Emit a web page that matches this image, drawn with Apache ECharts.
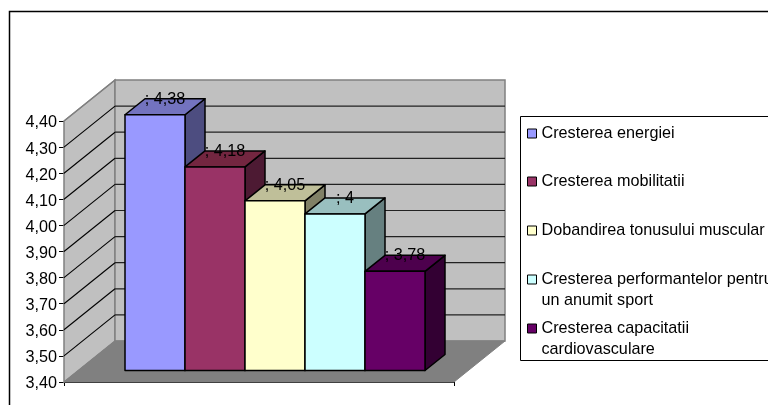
<!DOCTYPE html>
<html>
<head>
<meta charset="utf-8">
<style>html,body{margin:0;padding:0;background:#fff;overflow:hidden}#c{width:768px;height:405px}</style>
<script src="https://cdn.jsdelivr.net/npm/echarts@6/dist/echarts.min.js"></script>
</head>
<body>
<div id="c"></div>
<script>
const seriesNames = ["Cresterea energiei","Cresterea mobilitatii","Dobandirea tonusului muscular","Cresterea performantelor pentru\nun anumit sport","Cresterea capacitatii\ncardiovasculare"];
const seriesValues = [4.38,4.18,4.05,4,3.78];
const seriesColors = ["#9999FF","#993366","#FFFFCC","#CCFFFF","#660066"];
const topColors = ["#7373BF","#732640","#BFBF99","#99BFBF","#4D004D"];
const sideColors = ["#4D4D80","#4D1A33","#808066","#668080","#330033"];
const yTicks = [3.4,3.5,3.6,3.7,3.8,3.9,4.0,4.1,4.2,4.3,4.4];
const axisMin = 3.4, axisMax = 4.4;
const legendTops = [123,171,220,269,318];

const FONT = '"Liberation Sans", Arial, sans-serif';
const FS = 16.2;
const DEPTH = [51,-41], BAR_DEPTH = [20,-16], BAR_OFFSET = [16,-11.5];
const comma = v => String(v).replace('.',',');

function wallItem(params, api){
  const a = api.coord([0,axisMin]), b = api.coord([0,axisMax]);
  const w = api.size([1,0])[0];
  const x0 = a[0]-w/2, x1 = a[0]+w/2, yb = a[1], yt = b[1];
  const [dx,dy] = DEPTH;
  const wall = {fill:'#C0C0C0',stroke:'#808080',lineWidth:1.5};
  return {type:'group',children:[
    {type:'polygon',shape:{points:[[x0,yb],[x0,yt],[x0+dx,yt+dy],[x0+dx,yb+dy]]},style:wall,z2:1},
    {type:'polygon',shape:{points:[[x0+dx,yt+dy],[x1+dx,yt+dy],[x1+dx,yb+dy],[x0+dx,yb+dy]]},style:wall,z2:1},
    {type:'polygon',shape:{points:[[x0,yb],[x1,yb],[x1+dx,yb+dy],[x0+dx,yb+dy]]},style:{fill:'#808080',stroke:'#808080',lineWidth:1},z2:1}
  ]};
}
function gridItem(params, api){
  const v = api.value(0);
  if (v===axisMin) return {type:'group',children:[]};
  const p = api.coord([0,v]);
  const w = api.size([1,0])[0];
  const x0 = p[0]-w/2, x1 = p[0]+w/2, y = p[1];
  const [dx,dy] = DEPTH;
  const kids = [{type:'line',shape:{x1:x0,y1:y,x2:x0+dx,y2:y+dy},style:{stroke: v===axisMax?'#808080':'#000',lineWidth:1.1},z2:2}];
  if (v!==axisMax) kids.push({type:'line',shape:{x1:x0+dx,y1:y+dy,x2:x1+dx,y2:y+dy},style:{stroke:'#222',lineWidth:1.2},z2:2});
  return {type:'group',children:kids};
}
function barRender(i){
  return function(params, api){
    const v = api.value(1);
    const top = api.coord([0,v]), base = api.coord([0,axisMin]);
    const band = api.size([1,0])[0];
    const bw = band/6.5;
    const xl = top[0] + (i-2.5)*bw + BAR_OFFSET[0];
    const xr = xl+bw;
    const yt = top[1]+BAR_OFFSET[1], yb = base[1]+BAR_OFFSET[1];
    const [dx,dy] = BAR_DEPTH;
    const edge = {stroke:'#000',lineWidth:1.5,lineJoin:'round'};
    const z = 10+i;
    return {type:'group',children:[
      {type:'polygon',shape:{points:[[xr,yt],[xr+dx,yt+dy],[xr+dx,yb+dy],[xr,yb]]},style:{...edge,fill:sideColors[i]},z2:z},
      {type:'polygon',shape:{points:[[xl,yt],[xl+dx,yt+dy],[xr+dx,yt+dy],[xr,yt]]},style:{...edge,fill:topColors[i]},z2:z},
      {type:'rect',shape:{x:xl,y:yt,width:bw,height:yb-yt},style:{...edge,fill:seriesColors[i]},z2:z},
      {type:'text',x:(xl+xr)/2+10,y:yt-15.5,z2:100,style:{text:'; '+comma(v),fill:'#000',font:FS+'px '+FONT,align:'center',verticalAlign:'middle'}}
    ]};
  };
}

const series = [
  {type:'custom',name:'wall',silent:true,renderItem:wallItem,data:[[0]],z:1,encode:{x:0}},
  {type:'custom',name:'grid',silent:true,renderItem:gridItem,data:yTicks.map(v=>[v]),z:2,encode:{y:0}}
];
seriesNames.forEach((n,i)=>series.push({
  type:'custom',name:n,renderItem:barRender(i),data:[[0,seriesValues[i]]],
  encode:{x:0,y:1},z:3,itemStyle:{color:seriesColors[i],borderColor:'#000',borderWidth:1}
}));

const legends = seriesNames.map((n,i)=>{
  const two = n.includes('\n');
  return {
    data:[{name:n,icon:two?'path://M0,0H9V9H0Z M0,30 L0,30':'rect',itemStyle:{color:seriesColors[i],borderColor:'#000',borderWidth:1}}],
    left:527,top:legendTops[i],orient:'vertical',padding:0,itemWidth:9,itemHeight:two?30:9,selectedMode:false,
    textStyle:{fontFamily:FONT,fontSize:FS,color:'#000',lineHeight:21}
  };
});

const chart = echarts.init(document.getElementById('c'),null,{renderer:'canvas',width:768,height:405});
chart.setOption({
  animation:false,
  backgroundColor:'#fff',
  grid:{left:64,right:314,top:121,bottom:23,containLabel:false},
  xAxis:{type:'category',data:[''],boundaryGap:true,
    axisLine:{show:true,lineStyle:{color:'#000',width:1}},
    axisTick:{show:true,length:4,lineStyle:{color:'#000'}},axisLabel:{show:false},splitLine:{show:false}},
  yAxis:{type:'value',min:axisMin,max:axisMax,interval:0.1,
    axisLine:{show:true,lineStyle:{color:'#444',width:1}},
    axisTick:{show:true,length:5,lineStyle:{color:'#000'}},
    axisLabel:{margin:7,hideOverlap:false,formatter:v=>'{a|'+v.toFixed(2).replace('.',',')+'}',
      rich:{a:{fontFamily:FONT,fontSize:FS,color:'#000',padding:[4,0,0,0]}}},
    splitLine:{show:false}},
  legend:legends,
  tooltip:{show:false},
  graphic:[
    {type:'rect',silent:true,z:0,shape:{x:9.5,y:11.5,width:800,height:440},style:{fill:'none',stroke:'#000',lineWidth:1.5}},
    {type:'rect',silent:true,z:0,shape:{x:520.5,y:116.5,width:300,height:244},style:{fill:'#fff',stroke:'#000',lineWidth:1}}
  ],
  series
});
</script>
</body>
</html>
